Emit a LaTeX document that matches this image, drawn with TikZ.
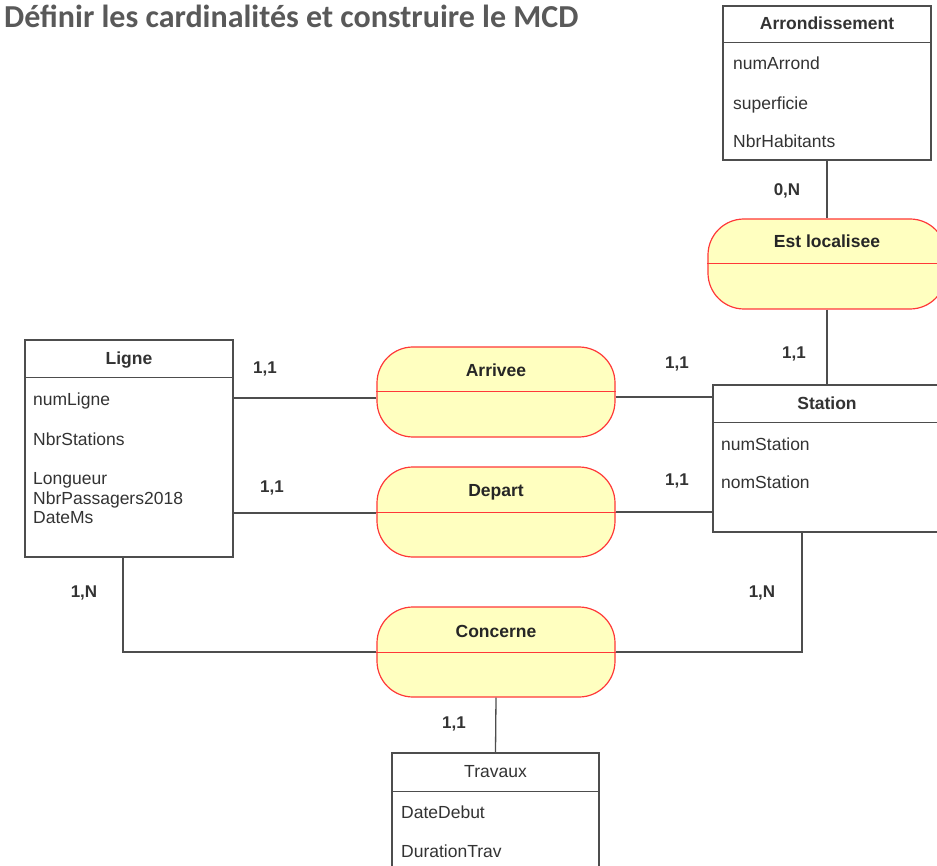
\documentclass[tikz,border=0pt]{standalone}
\usepackage{fontspec}
\setmainfont{Liberation Sans}
\newfontfamily\titlefont{Carlito}
\usepackage{tikz}
\usetikzlibrary{calc}
\definecolor{linegray}{HTML}{4D4D4D}
\definecolor{textgray}{HTML}{333333}
\definecolor{assocfill}{HTML}{FFFFC0}
\definecolor{assocdraw}{HTML}{FF3838}
\definecolor{titlegray}{HTML}{595959}
\tikzset{title style/.style={
		font=\titlefont\fontsize{32}{36}\selectfont\bfseries,
		text=titlegray,
		anchor=base west,
		inner sep=0pt,
	},
	entity style/.style={
		draw=linegray,
		line width=1.3pt,
		fill=white,
		rectangle,
		inner sep=0pt,
	},
	assoc style/.style={
		draw=assocdraw,
		line width=1.2pt,
		fill=assocfill,
		rectangle,
		rounded corners=36pt,
		minimum width=238pt,
		minimum height=90pt,
		inner sep=0pt,
	},
	head style/.style={
		font=\fontsize{17.5}{20}\selectfont\bfseries,
		text=textgray,
		anchor=base,
		inner sep=0pt,
	},
	attr style/.style={
		font=\fontsize{17.5}{20}\selectfont,
		text=textgray,
		anchor=base west,
		inner sep=0pt,
	},
	card style/.style={
		font=\fontsize{17}{20}\selectfont\bfseries,
		text=textgray,
		inner sep=0pt,
	},
	link style/.style={
		draw=linegray,
		line width=1.3pt,
	}
}

\begin{document}
\begin{tikzpicture}[x=1pt,y=-1pt]
	\useasboundingbox (0,0) rectangle (937,866);
	\clip (0,0) rectangle (937,866);
	
	\node[title style] (Title) at (4,28) {Définir les cardinalités et construire le MCD};
	
	% entites
	\node[entity style, minimum width=208pt, minimum height=154pt] (Arrond) at (827,83) {};
	\draw[link style] ($(Arrond.north west)+(0,37)$) -- ($(Arrond.north east)+(0,37)$);
	\node[head style] (ArrondTitle) at ($(Arrond.north)+(0,24)$) {Arrondissement};
	\node[attr style] (numArrond) at (733,70) {numArrond};
	\node[attr style] (superficie) at (733,110) {superficie};
	\node[attr style] (NbrHabitants) at (733,148) {NbrHabitants};
	
	\node[entity style, minimum width=228pt, minimum height=147pt] (Station) at (827,458.5) {};
	\draw[link style] ($(Station.north west)+(0,38)$) -- ($(Station.north east)+(0,38)$);
	\node[head style] (StationTitle) at ($(Station.north)+(0,25)$) {Station};
	\node[attr style] (numStation) at (721,450) {numStation};
	\node[attr style] (nomStation) at (721,488) {nomStation};
	
	\node[entity style, minimum width=208pt, minimum height=217pt] (Ligne) at (129,448.5) {};
	\draw[link style] ($(Ligne.north west)+(0,38)$) -- ($(Ligne.north east)+(0,38)$);
	\node[head style] (LigneTitle) at ($(Ligne.north)+(0,25)$) {Ligne};
	\node[attr style] (numLigne) at (33,406) {numLigne};
	\node[attr style] (NbrStations) at (33,445) {NbrStations};
	\node[attr style] (Longueur) at (33,484) {Longueur};
	\node[attr style] (NbrPassagers) at (33,504) {NbrPassagers2018};
	\node[attr style] (DateMs) at (33,523) {DateMs};
	
	\node[entity style, minimum width=207pt, minimum height=137pt] (Travaux) at (495.5,821.5) {};
	\draw[link style] ($(Travaux.north west)+(0,39)$) -- ($(Travaux.north east)+(0,39)$);
	\node[head style, font=\fontsize{17.5}{20}\selectfont] (TravauxTitle) at ($(Travaux.north)+(0,25)$) {Travaux};
	\node[attr style] (DateDebut) at (401,818) {DateDebut};
	\node[attr style] (DurationTrav) at (401,857) {DurationTrav};
	
	% associations
	\node[assoc style] (Est) at (827,264) {};
	\node[assoc style] (Arrivee) at (496,392) {};
	\node[assoc style] (Depart) at (496,512) {};
	\node[assoc style] (Concerne) at (496,652) {};
	\draw[assocdraw, line width=1pt] (Est.west) -- (Est.east);
	\draw[assocdraw, line width=1pt] (Arrivee.west) -- (Arrivee.east);
	\draw[assocdraw, line width=1pt] (Depart.west) -- (Depart.east);
	\draw[assocdraw, line width=1pt] (Concerne.west) -- (Concerne.east);
	\node[head style, text=black!85] (EstTitle) at ($(Est.north)+(0,29)$) {Est localisee};
	\node[head style, text=black!85] (ArriveeTitle) at ($(Arrivee.north)+(0,30)$) {Arrivee};
	\node[head style, text=black!85] (DepartTitle) at ($(Depart.north)+(0,30)$) {Depart};
	\node[head style, text=black!85] (ConcerneTitle) at ($(Concerne.north)+(0,31)$) {Concerne};
	
	% liens
	\draw[link style] (Arrond.south) -- (Est.north);
	\draw[link style] (Est.south) -- (Station.north);
	\draw[link style] ($(Ligne.east |- Arrivee.west)+(0,6)$) -- ($(Arrivee.west)+(0,6)$);
	\draw[link style] ($(Arrivee.east)+(0,5)$) -- ($(Station.west |- Arrivee.east)+(0,5)$);
	\draw[link style] ($(Ligne.east |- Depart.west)+(0,1)$) -- ($(Depart.west)+(0,1)$);
	\draw[link style] (Depart.east) -- (Station.west |- Depart.east);
	\draw[link style] ($(Ligne.south)+(-6,0)$) |- (Concerne.west);
	\draw[link style] (Concerne.east) -| ($(Station.south)+(-25,0)$);
	\draw[link style] (Concerne.south) -- (Travaux.north);
	
	% cardinalites
	\node[card style] (cardArrond) at (787,191) {0,N};
	\node[card style] (cardEst) at (794,354) {1,1};
	\node[card style] (cardLigneA) at (265,369) {1,1};
	\node[card style] (cardStationA) at (677,364) {1,1};
	\node[card style] (cardLigneD) at (272,488) {1,1};
	\node[card style] (cardStationD) at (677,481) {1,1};
	\node[card style] (cardLigneC) at (84,593) {1,N};
	\node[card style] (cardStationC) at (762,593) {1,N};
	\node[card style] (cardTravaux) at (454,724) {1,1};
\end{tikzpicture}
\end{document}
